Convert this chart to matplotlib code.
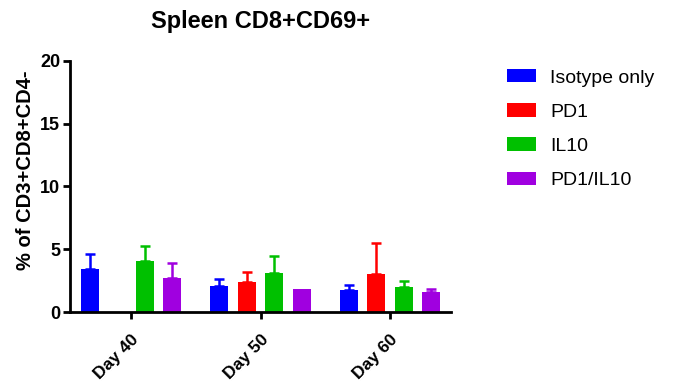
import numpy as np
import matplotlib
matplotlib.use("Agg")
import matplotlib.pyplot as plt

plt.rcParams['font.family'] = ['Liberation Sans', 'DejaVu Sans']

days = ["Day 40", "Day 50", "Day 60"]
groups = ["Isotype only", "PD1", "IL10", "PD1/IL10"]
colors = ["#0000ff", "#ff0000", "#00c000", "#a000e0"]

# mean and SEM per group (rows follow groups, columns follow days)
means = [
    [3.4, 2.07, 1.73],
    [np.nan, 2.41, 3.0],
    [4.09, 3.08, 1.97],
    [2.73, 1.86, 1.57],
]
sems = [
    [1.2, 0.56, 0.40],
    [np.nan, 0.75, 2.5],
    [1.17, 1.41, 0.48],
    [1.17, 0.0, 0.29],
]

fig = plt.figure(figsize=(6.75, 3.81), dpi=100)
ax = fig.add_axes([0.1037, 0.181, 0.5645, 0.659])

x = np.arange(len(days))
step = 0.212
width = 0.139
for i, g in enumerate(groups):
    pos = x + (i - 1.5) * step
    m = np.array(means[i], dtype=float)
    e = np.array(sems[i], dtype=float)
    ax.bar(pos, np.nan_to_num(m), width, color=colors[i], label=g,
           edgecolor=colors[i], linewidth=0)
    ok = ~np.isnan(m) & (np.nan_to_num(e) > 0)
    ax.errorbar(pos[ok], m[ok], yerr=[np.zeros(ok.sum()), e[ok]], fmt="none",
                ecolor=colors[i], elinewidth=1.8, capsize=3.5, capthick=1.8)

ax.set_xlim(-0.47, 2.47)
ax.set_ylim(0, 20)
ax.set_yticks([0, 5, 10, 15, 20])
ax.set_xticks(x)
ax.set_xticklabels(days, rotation=45, ha="right", rotation_mode="anchor",
                   fontsize=12.5, fontweight="bold")
for lbl in ax.get_yticklabels():
    lbl.set_fontweight("bold")
    lbl.set_fontsize(13)
ax.set_ylabel("% of CD3+CD8+CD4-", fontsize=14.5, fontweight="bold")
ax.yaxis.set_label_coords(-0.092, 0.565)
ax.set_title("Spleen CD8+CD69+", fontsize=17, fontweight="bold", pad=24, x=0.5)

for side in ["top", "right"]:
    ax.spines[side].set_visible(False)
for side in ["left", "bottom"]:
    ax.spines[side].set_linewidth(2)
ax.tick_params(width=2, length=5, direction="out")
ax.tick_params(axis="y", pad=2)
ax.tick_params(axis="x", pad=9)

ax.legend(loc="upper left", bbox_to_anchor=(1.1, 1.037), frameon=False,
          fontsize=14, handlelength=1.5, handleheight=0.67, labelspacing=0.86,
          handletextpad=0.75)

fig.savefig("out.png", dpi=100)
